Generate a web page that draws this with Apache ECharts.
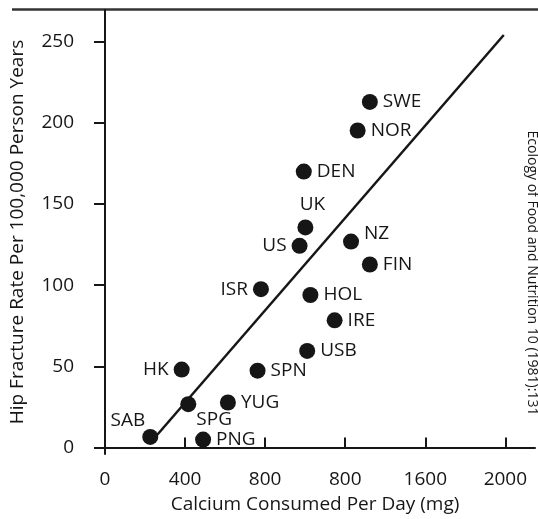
<!DOCTYPE html>
<html lang="en">
  <head>
    <meta charset="UTF-8" />
    <title>Hip fracture vs calcium</title>
    <script src="https://cdnjs.cloudflare.com/ajax/libs/echarts/6.0.0/echarts.min.js"></script>
    <style>
      html, body { margin: 0; padding: 0; background: #fff; }
      #chart { width: 538px; height: 519px; }
    </style>
  </head>
  <body>
    <div id="chart"></div>
    <script>
      // data
      const countries = ["SWE", "NOR", "DEN", "UK", "US", "NZ", "FIN", "ISR", "HOL", "IRE", "USB", "HK", "SPN", "SPG", "YUG", "SAB", "PNG"];
      const calcium = [1323, 1262, 993, 1001, 972, 1229, 1323, 779, 1026, 1147, 1010, 383, 762, 416, 614, 226, 490];
      const fracture = [212.8, 195.2, 169.9, 135.5, 124.2, 126.8, 112.7, 97.5, 93.9, 78.3, 59.5, 48, 47.3, 26.7, 27.7, 6.5, 4.9];
      const fitX = [234, 1992];
      const fitY = [4, 254];
      const xTicks = [0, 400, 800, 1200, 1600, 2000];
      const xTickLabels = ["0", "400", "800", "800", "1600", "2000"];
      const yTicks = [0, 50, 100, 150, 200, 250];

      // label placement per country
      const LABEL = {
        UK: { position: "top", offset: [7, 0] },
        US: { position: "left" },
        ISR: { position: "left" },
        HK: { position: "left" },
        NZ: { position: "right", offset: [0, -8] },
        SPG: { position: "right", offset: [-5, 15] },
        SAB: { position: "left", offset: [8, -16] },
      };

      const FONT = "Open Sans";
      const INK = "#161616";
      const FS = 19;

      const points = countries.map((name, i) => ({
        name,
        value: [calcium[i], fracture[i]],
        label: Object.assign({ position: "right" }, LABEL[name] || {}),
      }));

      const chart = echarts.init(document.getElementById("chart"));
      chart.setOption({
        animation: false,
        textStyle: { fontFamily: FONT, color: INK },
        grid: { left: 91, right: 3, top: 10, bottom: 58 },
        xAxis: {
          type: "value",
          min: -50,
          max: 2148,
          name: "Calcium Consumed Per Day (mg)",
          nameLocation: "middle",
          nameGap: 41,
          nameTextStyle: { fontSize: FS, color: INK, fontFamily: FONT },
          axisLine: { onZero: true, lineStyle: { color: INK, width: 2 } },
          axisTick: { inside: true, length: 10, customValues: xTicks, lineStyle: { color: INK, width: 2 } },
          axisLabel: {
            customValues: xTicks,
            margin: 16,
            fontSize: FS,
            color: INK,
            formatter: (v) => xTickLabels[xTicks.indexOf(v)] ?? "",
          },
          splitLine: { show: false },
        },
        yAxis: [
          {
            type: "value",
            min: -4,
            max: 269.4,
            name: "Hip Fracture Rate Per 100,000 Person Years",
            nameLocation: "middle",
            nameGap: 68,
            nameTextStyle: { fontSize: FS, color: INK, fontFamily: FONT },
            axisLine: { onZero: true, lineStyle: { color: INK, width: 2 } },
            axisTick: { length: 11, customValues: yTicks, lineStyle: { color: INK, width: 2 } },
            axisLabel: { customValues: yTicks, margin: 21, fontSize: FS, color: INK },
            splitLine: { show: false },
          },
          {
            type: "value",
            position: "left",
            min: -4,
            max: 269.4,
            axisLine: { show: false, onZero: true },
            axisTick: { inside: true, length: 9, customValues: yTicks, lineStyle: { color: INK, width: 2 } },
            axisLabel: { show: false },
            splitLine: { show: false },
          },
        ],
        series: [
          {
            type: "line",
            data: fitX.map((x, i) => [x, fitY[i]]),
            symbol: "none",
            lineStyle: { color: INK, width: 2.5 },
            z: 1,
          },
          {
            type: "scatter",
            data: points,
            symbolSize: 16,
            itemStyle: { color: INK, opacity: 1 },
            label: {
              show: true,
              formatter: "{b}",
              fontSize: FS,
              color: INK,
              fontFamily: FONT,
              distance: 5,
            },
            z: 2,
          },
        ],
        graphic: [
          {
            type: "line",
            shape: { x1: 12, y1: 9.5, x2: 538, y2: 9.5 },
            style: { stroke: "#333", lineWidth: 2.5 },
          },
          {
            type: "text",
            x: 532,
            y: 273,
            rotation: -Math.PI / 2,
            style: {
              text: "Ecology of Food and Nutrition 10 (1981):131",
              font: "14px " + FONT,
              fill: INK,
              align: "center",
              verticalAlign: "middle",
            },
          },
        ],
      });
    </script>
  </body>
</html>
